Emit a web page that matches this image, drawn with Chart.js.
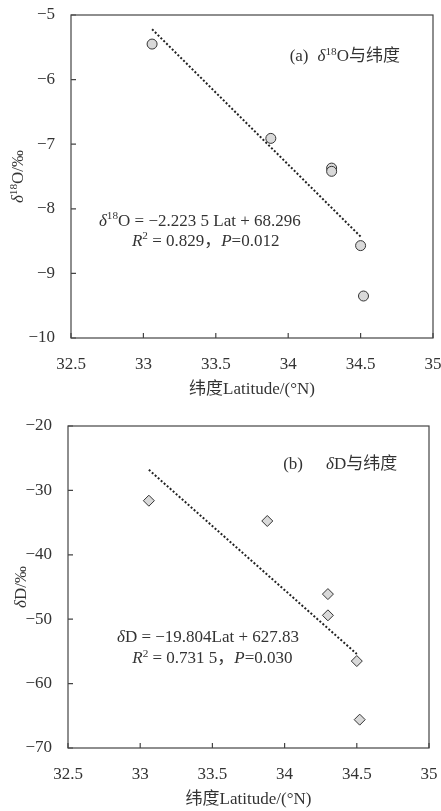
<!DOCTYPE html>
<html><head><meta charset="utf-8">
<script src="https://cdn.jsdelivr.net/npm/chart.js@4/dist/chart.umd.min.js"></script>
<style>
html,body{margin:0;padding:0;background:#fff;}
#w1{position:absolute;left:0;top:0;width:441px;height:400px;}
#w2{position:absolute;left:0;top:400px;width:441px;height:411px;}
</style></head><body>
<div id="w1"><canvas id="c1"></canvas></div>
<div id="w2"><canvas id="c2"></canvas></div>
<script>
// ---- data ----
const latA = [33.06, 33.88, 34.30, 34.30, 34.50, 34.52];
const d18O = [-5.45, -6.91, -7.37, -7.42, -8.57, -9.35];
const latB = [33.06, 33.88, 34.30, 34.30, 34.50, 34.52];
const dD = [-31.6, -34.75, -46.1, -49.4, -56.5, -65.6];
const trendLatA = [33.06, 34.50];
const trendA = [-5.22, -8.43];
const trendLatB = [33.06, 34.50];
const trendB = [-26.8, -55.4];
const xRange = [32.5, 35, 0.5];
const yRangeA = [-10, -5, 1];
const yRangeB = [-70, -20, 10];

const SERIF = '"Liberation Serif", "Noto Sans CJK SC", serif';
const TXT = '#333';
const FS = 17;

function pts(xs, ys) { return xs.map((x, i) => ({ x: x, y: ys[i] })); }
function fmt(v) { return String(v).replace('-', '\u2212'); }

function drawRich(ctx, segs, cx, cyMid, size, align) {
  let total = 0;
  const parts = segs.map(s => {
    if (s.gap) { total += s.gap; return { s, gap: s.gap, w: s.gap }; }
    const fs = s.sup ? size * 0.66 : size;
    const font = (s.it ? 'italic ' : '') + fs + 'px ' + SERIF;
    ctx.font = font;
    const w = ctx.measureText(s.t).width;
    total += w;
    return { s, font, w };
  });
  let x = align === 'center' ? cx - total / 2 : cx;
  const base = cyMid + size * 0.34;
  ctx.textAlign = 'left';
  ctx.textBaseline = 'alphabetic';
  ctx.fillStyle = TXT;
  parts.forEach(p => {
    if (!p.gap) {
      ctx.font = p.font;
      ctx.fillText(p.s.t, x, base + (p.s.sup ? -size * 0.36 : 0));
    }
    x += p.w;
  });
}

const framePlugin = {
  id: 'frame',
  afterDraw(chart) {
    const ctx = chart.ctx, a = chart.chartArea;
    const xs = chart.scales.x, ys = chart.scales.y;
    const o = chart.options.plugins.frame;
    ctx.save();
    ctx.strokeStyle = '#444';
    ctx.lineWidth = 1.2;
    ctx.strokeRect(a.left, a.top, a.right - a.left, a.bottom - a.top);
    ctx.beginPath();
    xs.ticks.forEach(t => {
      const p = xs.getPixelForValue(t.value);
      ctx.moveTo(p, a.bottom); ctx.lineTo(p, a.bottom - 5);
    });
    ys.ticks.forEach(t => {
      const p = ys.getPixelForValue(t.value);
      ctx.moveTo(a.left, p); ctx.lineTo(a.left + 5, p);
    });
    ctx.stroke();
    (o.notes || []).forEach(n => {
      drawRich(ctx, n.segs, xs.getPixelForValue(n.x), ys.getPixelForValue(n.y), n.size || FS, n.align || 'center');
    });
    if (o.yTitle) {
      ctx.save();
      ctx.translate(o.yTitle.x, (a.top + a.bottom) / 2);
      ctx.rotate(-Math.PI / 2);
      drawRich(ctx, o.yTitle.segs, 0, 0, FS, 'center');
      ctx.restore();
    }
    ctx.restore();
  }
};

function makeChart(id, xs, ys, tx, ty, yRange, pStyle, pRadius, yTitle, dims, notes) {
  return new Chart(document.getElementById(id), {
    type: 'scatter',
    data: {
      datasets: [
        {
          type: 'line', data: pts(tx, ty), borderColor: '#222', borderWidth: 2,
          borderDash: [2, 2], pointRadius: 0, fill: false, order: 2
        },
        {
          data: pts(xs, ys), pointStyle: pStyle, pointRadius: pRadius,
          pointBackgroundColor: '#d9d9d9', pointBorderColor: '#333', pointBorderWidth: 1, order: 1
        }
      ]
    },
    options: {
      responsive: true, maintainAspectRatio: false, animation: false,
      layout: { padding: { top: dims.top, right: dims.right, left: 0, bottom: 0 } },
      plugins: { legend: { display: false }, tooltip: { enabled: false }, frame: { notes, yTitle } },
      scales: {
        x: {
          type: 'linear', min: xRange[0], max: xRange[1],
          grid: { display: false }, border: { display: false },
          ticks: { stepSize: xRange[2], padding: dims.xPad, color: TXT, font: { family: SERIF, size: FS }, callback: fmt, maxRotation: 0 },
          title: { display: true, text: '纬度Latitude/(°N)', color: TXT, font: { family: SERIF, size: FS }, padding: { top: 0, bottom: dims.xtPad } },
          afterFit(s) { s.height = dims.xH; s.paddingLeft = 0; s.paddingRight = 0; }
        },
        y: {
          type: 'linear', min: yRange[0], max: yRange[1],
          grid: { display: false }, border: { display: false },
          ticks: { stepSize: yRange[2], padding: 8, color: TXT, font: { family: SERIF, size: FS }, callback: fmt },
          title: { display: false },
          afterFit(s) { s.width = dims.yW; s.paddingTop = 0; s.paddingBottom = 0; }
        }
      }
    },
    plugins: [framePlugin]
  });
}

makeChart('c1', latA, d18O, trendLatA, trendA, yRangeA, 'circle', 5,
  { x: 17, segs: [{ t: 'δ', it: true }, { t: '18', sup: true }, { t: 'O/‰' }] },
  { top: 15, right: 8, yW: 71, xH: 62, xPad: 8, xtPad: 0 },
  [
    { x: 34.01, y: -5.62, align: 'left', segs: [{ t: '(a)' }, { gap: 9 }, { t: 'δ', it: true }, { t: '18', sup: true }, { t: 'O与纬度' }] },
    { x: 33.39, y: -8.17, segs: [{ t: 'δ', it: true }, { t: '18', sup: true }, { t: 'O = −2.223 5 Lat + 68.296' }] },
    { x: 33.43, y: -8.48, segs: [{ t: 'R', it: true }, { t: '2', sup: true }, { t: ' = 0.829，' }, { t: 'P', it: true }, { t: '=0.012' }] }
  ]);

makeChart('c2', latB, dD, trendLatB, trendB, yRangeB, 'rectRot', 5.5,
  { x: 20, segs: [{ t: 'δ', it: true }, { t: 'D/‰' }] },
  { top: 26, right: 12, yW: 68, xH: 63, xPad: 8, xtPad: 1 },
  [
    { x: 33.99, y: -25.8, align: 'left', segs: [{ t: '(b)' }, { gap: 23 }, { t: 'δ', it: true }, { t: 'D与纬度' }] },
    { x: 33.47, y: -52.66, segs: [{ t: 'δ', it: true }, { t: 'D = −19.804Lat + 627.83' }] },
    { x: 33.5, y: -55.9, segs: [{ t: 'R', it: true }, { t: '2', sup: true }, { t: ' = 0.731 5，' }, { t: 'P', it: true }, { t: '=0.030' }] }
  ]);
</script>
</body></html>
